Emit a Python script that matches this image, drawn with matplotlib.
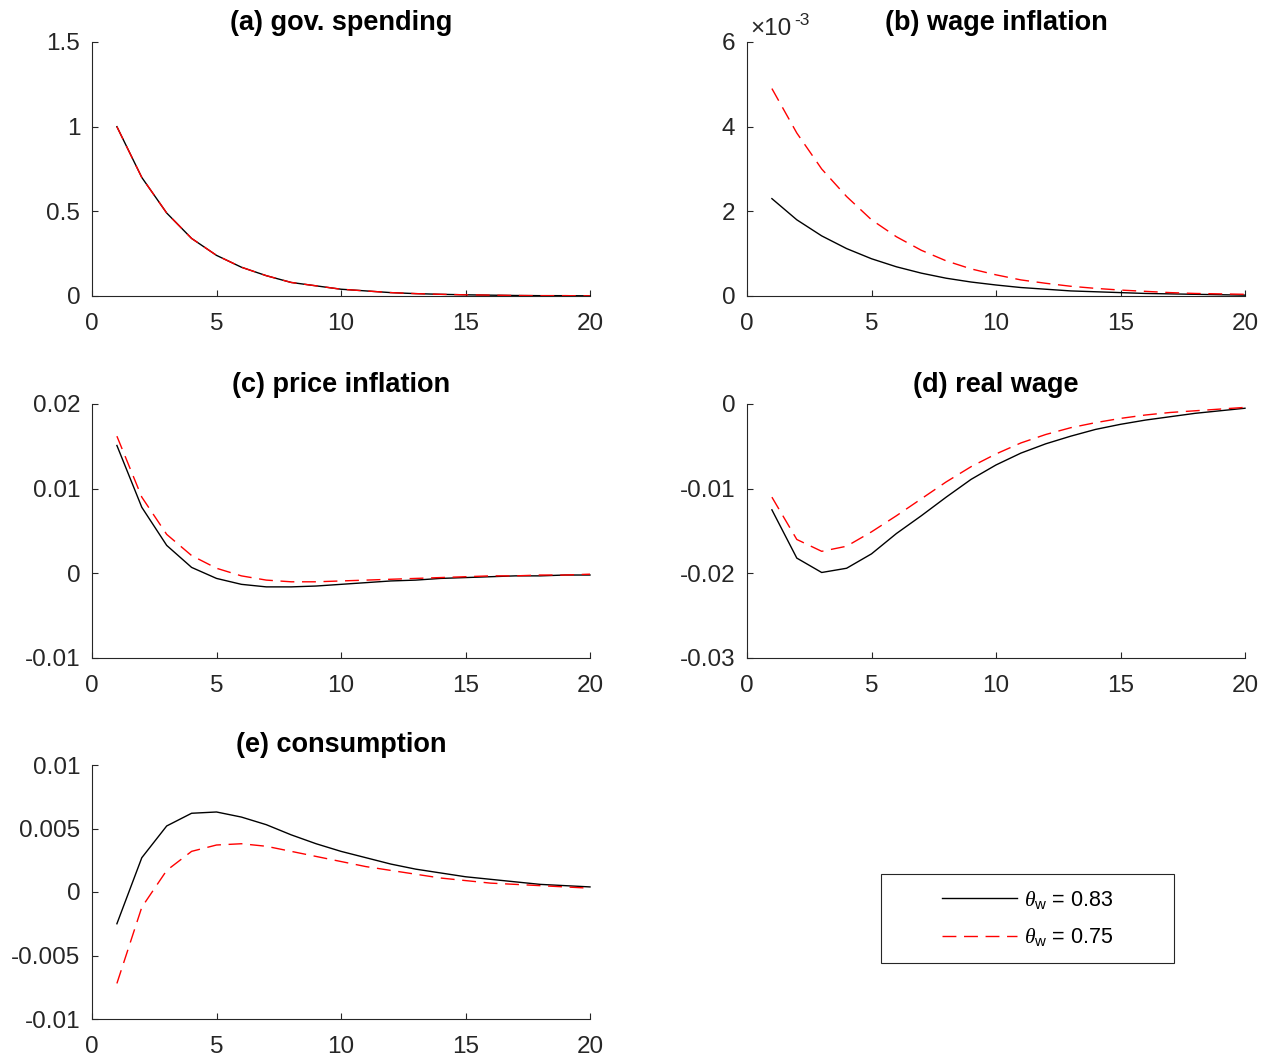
import numpy as np
import matplotlib
matplotlib.use('Agg')
import matplotlib.pyplot as plt
from matplotlib.patches import Rectangle

plt.rcParams['font.family'] = ['Liberation Sans', 'DejaVu Sans']
plt.rcParams['mathtext.fontset'] = 'custom'
plt.rcParams['mathtext.it'] = 'Liberation Serif:italic'
plt.rcParams['mathtext.rm'] = 'Liberation Sans'
plt.rcParams['lines.scale_dashes'] = False

# horizon
periods = np.arange(1, 21)

# (a) gov. spending
gov_high = [1.0, 0.70, 0.49, 0.34, 0.24, 0.17, 0.12, 0.08, 0.06, 0.04,
            0.03, 0.02, 0.014, 0.01, 0.007, 0.005, 0.003, 0.002, 0.002, 0.001]
gov_low = [1.0, 0.70, 0.49, 0.34, 0.24, 0.17, 0.12, 0.08, 0.06, 0.04,
           0.03, 0.02, 0.014, 0.01, 0.007, 0.005, 0.003, 0.002, 0.002, 0.001]

# (b) wage inflation (x 1e-3)
wage_high = np.array([2.30, 1.80, 1.42, 1.12, 0.88, 0.69, 0.54, 0.42, 0.33, 0.26,
                      0.20, 0.16, 0.12, 0.10, 0.08, 0.06, 0.05, 0.04, 0.03, 0.02]) * 1e-3
wage_low = np.array([4.90, 3.85, 3.00, 2.35, 1.80, 1.40, 1.08, 0.83, 0.64, 0.50,
                     0.38, 0.30, 0.23, 0.18, 0.14, 0.11, 0.08, 0.06, 0.05, 0.04]) * 1e-3

# (c) price inflation
price_high = [0.0151, 0.0078, 0.0033, 0.0007, -0.0006, -0.0013, -0.0016, -0.0016, -0.0015, -0.0013,
              -0.0011, -0.0009, -0.0008, -0.0006, -0.0005, -0.0004, -0.0003, -0.0003, -0.0002, -0.0002]
price_low = [0.0162, 0.0090, 0.0046, 0.0021, 0.0006, -0.0003, -0.0008, -0.0010, -0.0010, -0.0009,
             -0.0008, -0.0007, -0.0006, -0.0005, -0.0004, -0.0003, -0.0003, -0.0002, -0.0002, -0.0001]

# (d) real wage
rw_high = [-0.0125, -0.0182, -0.0199, -0.0194, -0.0177, -0.0153, -0.0132, -0.0110, -0.0089, -0.0072,
           -0.0058, -0.0047, -0.0038, -0.0030, -0.0024, -0.0019, -0.0015, -0.0011, -0.0008, -0.0005]
rw_low = [-0.0110, -0.0160, -0.0174, -0.0168, -0.0151, -0.0132, -0.0112, -0.0092, -0.0074, -0.0059,
          -0.0046, -0.0036, -0.0028, -0.0022, -0.0017, -0.0013, -0.0010, -0.0008, -0.0006, -0.0004]

# (e) consumption
cons_high = [-0.0025, 0.0027, 0.0052, 0.0062, 0.0063, 0.0059, 0.0053, 0.0045, 0.0038, 0.0032,
             0.0027, 0.0022, 0.0018, 0.0015, 0.0012, 0.0010, 0.0008, 0.0006, 0.0005, 0.0004]
cons_low = [-0.0072, -0.0012, 0.0017, 0.0032, 0.0037, 0.0038, 0.0036, 0.0032, 0.0028, 0.0024,
            0.0020, 0.0017, 0.0014, 0.0011, 0.0009, 0.0007, 0.0006, 0.0005, 0.0004, 0.0003]

panels = [
    ('(a) gov. spending', gov_high, gov_low, (0, 1.5), [0, 0.5, 1, 1.5], ['0', '0.5', '1', '1.5']),
    ('(b) wage inflation', wage_high, wage_low, (0, 6e-3), [0, 2e-3, 4e-3, 6e-3], ['0', '2', '4', '6']),
    ('(c) price inflation', price_high, price_low, (-0.01, 0.02), [-0.01, 0, 0.01, 0.02],
     ['-0.01', '0', '0.01', '0.02']),
    ('(d) real wage', rw_high, rw_low, (-0.03, 0), [-0.03, -0.02, -0.01, 0],
     ['-0.03', '-0.02', '-0.01', '0']),
    ('(e) consumption', cons_high, cons_low, (-0.01, 0.01), [-0.01, -0.005, 0, 0.005, 0.01],
     ['-0.01', '-0.005', '0', '0.005', '0.01']),
]

W, H = 1272, 1057
fig = plt.figure(figsize=(W / 100, H / 100), dpi=100)

lefts = [92, 747]
tops = [42, 404, 765]
aw, ah = 498, 254
axcol = (0.15, 0.15, 0.15)

for i, (title, hi, lo, ylim, yt, ytl) in enumerate(panels):
    col = i % 2
    row = i // 2
    ax = fig.add_axes([lefts[col] / W, 1 - (tops[row] + ah) / H, aw / W, ah / H])
    l1, = ax.plot(periods, hi, color='black', lw=1.0, clip_on=False)
    l2, = ax.plot(periods, lo, color='red', lw=1.0, clip_on=False)
    l2.set_dashes((10, 5.5))
    ax.set_xlim(0, 20)
    ax.set_ylim(*ylim)
    ax.set_xticks([0, 5, 10, 15, 20])
    ax.set_yticks(yt)
    ax.set_yticklabels(ytl)
    for s in ['top', 'right']:
        ax.spines[s].set_visible(False)
    for s in ['left', 'bottom']:
        ax.spines[s].set_color(axcol)
        ax.spines[s].set_linewidth(0.8)
    ax.tick_params(direction='in', length=4.5, width=0.8, colors=axcol, labelsize=17.5)
    ax.tick_params(axis='x', pad=12.5)
    ax.tick_params(axis='y', pad=8.5)
    ax.set_title(title, fontsize=19.5, fontweight='bold', pad=9)
    if i == 1:
        ax.text(3 / aw, 1 + 7 / ah, '\u00d710', transform=ax.transAxes,
                fontsize=17.5, color=axcol, ha='left', va='baseline')
        ax.text(47 / aw, 1 + 17 / ah, '-3', transform=ax.transAxes,
                fontsize=12.5, color=axcol, ha='left', va='baseline')

fig.legend([l1, l2], [r'$\theta_{\mathregular{w}}$ = 0.83', r'$\theta_{\mathregular{w}}$ = 0.75'],
           loc='center', bbox_to_anchor=(1027.5 / W, 1 - 918.5 / H), frameon=False,
           fontsize=15.5, handlelength=3.5, handletextpad=0.3, labelspacing=0.7,
           borderpad=0, borderaxespad=0)
fig.add_artist(Rectangle((881 / W, 1 - 963 / H), 293 / W, 89 / H, transform=fig.transFigure,
                         fill=False, edgecolor=axcol, lw=0.8))

fig.savefig('out.png', dpi=100)
